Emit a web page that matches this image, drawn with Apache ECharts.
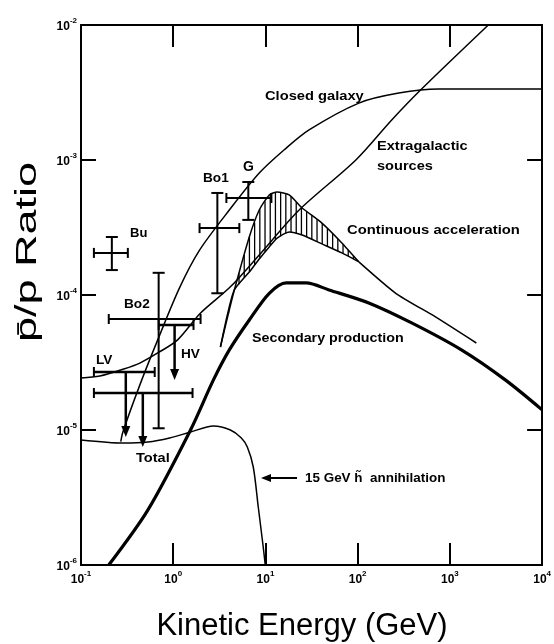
<!DOCTYPE html>
<html><head><meta charset="utf-8">
<script src="https://cdn.jsdelivr.net/npm/echarts@6/dist/echarts.min.js"></script>
<style>html,body{margin:0;padding:0;background:#fff}#c{width:554px;height:644px}</style>
</head><body><div id="c"></div>
<script>
// ---- tick labels (exponents of 10) ----
const xTickExps = ['-1', '0', '1', '2', '3', '4'];
const yTickExps = ['-6', '-5', '-4', '-3', '-2'];

// ---- model curves (kinetic energy GeV, pbar/p ratio) ----
const closedGalaxyE = [0.27, 0.285, 0.434, 0.679, 1.17, 1.93, 4.06, 8.57, 16.0, 29.7, 103, 279, 753, 10000];
const closedGalaxyR = [8.2e-6, 9.7e-6, 2.15e-5, 4.65e-5, 1.13e-4, 2.15e-4, 4.26e-4, 8.0e-4, 1.19e-3, 1.67e-3, 2.64e-3, 3.13e-3, 3.36e-3, 3.36e-3];

const extragalacticE = [0.1, 0.16, 0.291, 0.434, 0.679, 1.116, 1.98, 4.17, 8.57, 23.2, 95.6, 234, 481, 2610];
const extragalacticR = [2.43e-5, 2.51e-5, 2.83e-5, 3.13e-5, 3.72e-5, 4.65e-5, 7.36e-5, 1.15e-4, 1.98e-4, 4.26e-4, 1.0e-3, 1.98e-3, 3.3e-3, 1.0e-2];

const totalE = [0.1, 0.291, 0.53, 0.914, 1.54, 2.73, 4.17, 5.48, 6.36, 7.38, 8.36, 9.46, 9.95];
const totalR = [8.43e-6, 8.0e-6, 8.15e-6, 8.73e-6, 9.66e-6, 1.07e-5, 1.0e-5, 8.73e-6, 7.48e-6, 5.32e-6, 2.69e-6, 1.36e-6, 1.0e-6];

const secondaryE = [0.2, 0.53, 1.54, 2.73, 4.06, 6.68, 11.0, 16.8, 27.6, 48.9, 132, 385, 1334, 3985, 10000];
const secondaryR = [1.0e-6, 2.55e-6, 1.0e-5, 2.35e-5, 3.92e-5, 6.53e-5, 1.03e-4, 1.23e-4, 1.23e-4, 1.09e-4, 8.73e-5, 6.21e-5, 3.92e-5, 2.35e-5, 1.41e-5];

// continuous acceleration band (hatched) and its tail
const accE = [3.25, 3.86, 4.60, 6.68, 8.57, 11.0, 13.4, 18.1, 25.0, 41.0, 67.4, 103];
const accUpper = [4.12e-5, 6.76e-5, 1.09e-4, 2.69e-4, 4.26e-4, 5.51e-4, 5.79e-4, 5.51e-4, 4.41e-4, 3.41e-4, 2.43e-4, 1.76e-4];
const accLower = [4.12e-5, 7.11e-5, 1.09e-4, 1.48e-4, 1.85e-4, 2.27e-4, 2.64e-4, 2.93e-4, 2.78e-4, 2.39e-4, 2.05e-4, 1.76e-4];
const accTailE = [103, 259, 698, 1936];
const accTailR = [1.76e-4, 1.03e-4, 6.88e-5, 4.41e-5];

// ---- measurements with error bars ----
const errNames = ['Bu', 'Bo2', 'Bo1', 'G'];
const errE   = [0.216, 0.695, 3.01, 6.52];
const errELo = [0.138, 0.2, 1.93, 3.77];
const errEHi = [0.322, 1.98, 5.21, 11.6];
const errR   = [2.05e-4, 6.64e-5, 3.13e-4, 5.23e-4];
const errRLo = [1.53e-4, 1.03e-5, 1.03e-4, 3.60e-4];
const errRHi = [2.69e-4, 1.46e-4, 5.70e-4, 6.87e-4];

// ---- upper limits ----
const limNames   = ['HV', 'LV', 'LV'];
const limELo     = [0.695, 0.138, 0.138];
const limEHi     = [1.66, 0.63, 1.62];
const limR       = [6.0e-5, 2.69e-5, 1.88e-5];
const limArrowE  = [1.035, 0.306, 0.468];
const limArrowTo = [2.35e-5, 8.87e-6, 7.48e-6];

const zip = (a, b) => a.map((v, i) => [v, b[i]]);
const FONT = "'Liberation Sans', Arial, Helvetica, sans-serif";

function curve(data, w, smooth) {
  return { type: 'line', data, symbol: 'none', showSymbol: false, smooth: smooth === undefined ? 0.3 : smooth,
    lineStyle: { color: '#000', width: w }, z: 3, silent: true, animation: false, clip: true };
}

function hatchRender(params, api) {
  const up = accE.map((e, i) => api.coord([e, accUpper[i]]));
  const lo = accE.map((e, i) => api.coord([e, accLower[i]]));
  const interp = (pts, px) => {
    for (let i = 0; i < pts.length - 1; i++) {
      if (px >= pts[i][0] && px <= pts[i + 1][0]) {
        const t = (px - pts[i][0]) / (pts[i + 1][0] - pts[i][0]);
        return pts[i][1] + t * (pts[i + 1][1] - pts[i][1]);
      }
    }
    return null;
  };
  const children = [];
  for (let px = up[0][0] + 3; px < up[up.length - 1][0] - 2; px += 5.2) {
    const a = interp(up, px), b = interp(lo, px);
    if (a === null || b === null) continue;
    children.push({ type: 'line', shape: { x1: px, y1: a, x2: px, y2: b }, style: { stroke: '#000', lineWidth: 1.3 } });
  }
  return { type: 'group', children };
}

const L = (x1, y1, x2, y2, w) => ({ type: 'line', shape: { x1, y1, x2, y2 }, style: { stroke: '#000', lineWidth: w || 2 } });

function errRender(params, api) {
  const i = params.dataIndex;
  const l = api.coord([errELo[i], errR[i]]), r = api.coord([errEHi[i], errR[i]]);
  const t = api.coord([errE[i], errRHi[i]]), b = api.coord([errE[i], errRLo[i]]);
  return { type: 'group', children: [
    L(l[0], l[1], r[0], r[1]), L(l[0], l[1] - 5, l[0], l[1] + 5), L(r[0], r[1] - 5, r[0], r[1] + 5),
    L(t[0], t[1], b[0], b[1]), L(t[0] - 6, t[1], t[0] + 6, t[1]), L(b[0] - 6, b[1], b[0] + 6, b[1])
  ] };
}

function limRender(params, api) {
  const i = params.dataIndex;
  const l = api.coord([limELo[i], limR[i]]), r = api.coord([limEHi[i], limR[i]]);
  const a = api.coord([limArrowE[i], limR[i]]), z = api.coord([limArrowE[i], limArrowTo[i]]);
  return { type: 'group', children: [
    L(l[0], l[1], r[0], r[1], 2.5), L(l[0], l[1] - 5, l[0], l[1] + 5), L(r[0], r[1] - 5, r[0], r[1] + 5),
    L(a[0], a[1], a[0], z[1] - 8, 2.5),
    { type: 'polygon', shape: { points: [[a[0] - 4.5, z[1] - 11], [a[0] + 4.5, z[1] - 11], [a[0], z[1]]] }, style: { fill: '#000' } }
  ] };
}

function rich() {
  return {
    b: { fontSize: 12, fontWeight: 'bold', fontFamily: FONT, color: '#000', lineHeight: 16, verticalAlign: 'bottom' },
    s: { fontSize: 8, fontWeight: 'bold', fontFamily: FONT, color: '#000', lineHeight: 16, verticalAlign: 'top' }
  };
}

const axisBase = {
  type: 'log', logBase: 10,
  axisLine: { show: true, lineStyle: { color: '#000', width: 2 } },
  splitLine: { show: false }, minorTick: { show: false }, minorSplitLine: { show: false }
};

function txt(x, y, text, size, sx) {
  return { type: 'text', x, y, silent: true, scaleX: sx || 1,
    style: { text, font: 'bold ' + size + 'px ' + FONT, fill: '#000', align: 'left', verticalAlign: 'middle' } };
}

const option = {
  animation: false,
  backgroundColor: '#fff',
  grid: { left: 81, right: 10, top: 25, bottom: 79, containLabel: false },
  xAxis: [
    Object.assign({}, axisBase, { min: 0.1, max: 10000, position: 'bottom',
      axisTick: { show: true, inside: true, length: 22, lineStyle: { color: '#000', width: 2 } },
      axisLabel: { margin: 5, formatter: (v, idx) => '{b|10}{s|' + xTickExps[idx] + '}', rich: rich() } }),
    Object.assign({}, axisBase, { min: 0.1, max: 10000, position: 'top',
      axisTick: { show: true, inside: true, length: 22, lineStyle: { color: '#000', width: 2 } },
      axisLabel: { show: false } })
  ],
  yAxis: [
    Object.assign({}, axisBase, { min: 1e-6, max: 1e-2, position: 'left',
      axisTick: { show: true, inside: true, length: 15, lineStyle: { color: '#000', width: 2 } },
      axisLabel: { margin: 4, formatter: (v, idx) => '{b|10}{s|' + yTickExps[idx] + '}', rich: rich() } }),
    Object.assign({}, axisBase, { min: 1e-6, max: 1e-2, position: 'right',
      axisTick: { show: true, inside: true, length: 15, lineStyle: { color: '#000', width: 2 } },
      axisLabel: { show: false } })
  ],
  series: [
    { type: 'custom', renderItem: hatchRender, data: [[accE[0], accUpper[0]]], clip: true, z: 2, silent: true },
    curve(zip(accE, accUpper), 1.5, 0.2),
    curve(zip(accE, accLower), 1.5, 0.2),
    curve(zip(accTailE, accTailR), 1.5, 0.2),
    curve(zip(closedGalaxyE, closedGalaxyR), 1.5),
    curve(zip(extragalacticE, extragalacticR), 1.5),
    curve(zip(totalE, totalR), 1.5),
    curve(zip(secondaryE, secondaryR), 3.2),
    { type: 'custom', renderItem: errRender, data: errE.map((e, i) => [e, errR[i]]), clip: true, z: 4, silent: true },
    { type: 'custom', renderItem: limRender, data: limArrowE.map((e, i) => [e, limR[i]]), clip: true, z: 4, silent: true }
  ],
  graphic: [
    { type: 'text', x: 28, y: 252, rotation: Math.PI / 2, scaleX: 1.5, silent: true,
      style: { text: 'p\u0304/p Ratio', font: '30px ' + FONT, fill: '#000', align: 'center', verticalAlign: 'middle' } },
    { type: 'text', x: 302, y: 626, silent: true, style: { text: 'Kinetic Energy (GeV)', font: '31px ' + FONT, fill: '#000', align: 'center', verticalAlign: 'middle' } },
    txt(265, 96, 'Closed galaxy', 13, 1.13),
    txt(377, 146, 'Extragalactic', 13, 1.12),
    txt(377, 166, 'sources', 13, 1.12),
    txt(347, 230, 'Continuous acceleration', 13, 1.14),
    txt(252, 338, 'Secondary production', 13, 1.1),
    txt(305, 479, '15 GeV h\u0303  annihilation', 12, 1.12),
    txt(130, 233, 'Bu', 13),
    txt(124, 304, 'Bo2', 13, 1.05),
    txt(96, 360, 'LV', 13, 1.05),
    txt(181, 354, 'HV', 13, 1.05),
    txt(136, 458, 'Total', 13, 1.12),
    txt(203, 178, 'Bo1', 13, 1.05),
    txt(243, 167, 'G', 14),
    { type: 'line', silent: true, shape: { x1: 269, y1: 478, x2: 297, y2: 478 }, style: { stroke: '#000', lineWidth: 2 } },
    { type: 'polygon', silent: true, shape: { points: [[261, 478], [271, 474], [271, 482]] }, style: { fill: '#000' } }
  ]
};

const chart = echarts.init(document.getElementById('c'), null, { renderer: 'canvas' });
chart.setOption(option);
</script>
</body></html>
